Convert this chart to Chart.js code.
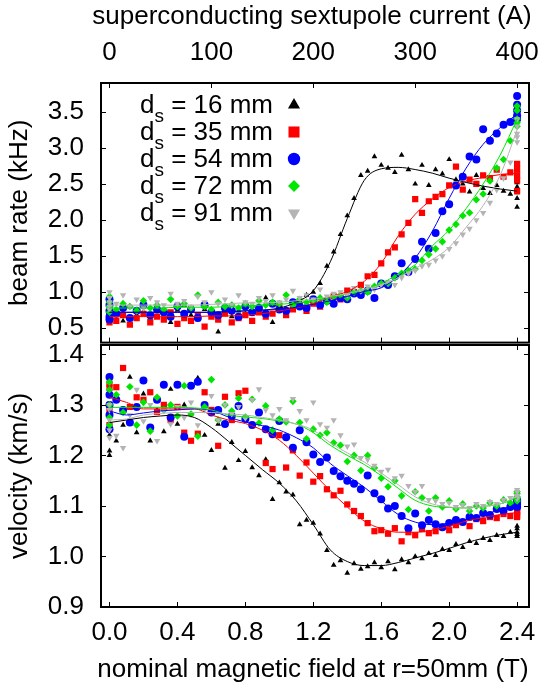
<!DOCTYPE html>
<html>
<head>
<meta charset="utf-8">
<script src="https://cdn.jsdelivr.net/npm/chart.js@4.4.1/dist/chart.umd.min.js"></script>
<style>
  html, body { margin: 0; padding: 0; background: #fff; }
  #wrap { position: relative; width: 545px; height: 693px; overflow: hidden; }
  canvas { position: absolute; left: 0; }
  #topChart { top: 0; }
  #bottomChart { top: 337px; }
</style>
</head>
<body>
<div id="wrap">
  <canvas id="topChart" width="545" height="347"></canvas>
  <canvas id="bottomChart" width="545" height="356"></canvas>
</div>
<script>
// nominal field (T) of every measurement, repeated points at 0 and 2.4 T
const field = [0, 0, 0, 0, 0,
  0.04, 0.08, 0.12, 0.16, 0.20, 0.24, 0.28, 0.32, 0.36, 0.40,
  0.44, 0.48, 0.52, 0.56, 0.60, 0.64, 0.68, 0.72, 0.76, 0.80,
  0.84, 0.88, 0.92, 0.96, 1.00, 1.04, 1.08, 1.12, 1.16, 1.20,
  1.24, 1.28, 1.32, 1.36, 1.40, 1.44, 1.48, 1.52, 1.56, 1.60,
  1.64, 1.68, 1.72, 1.76, 1.80, 1.84, 1.88, 1.92, 1.96, 2.00,
  2.04, 2.08, 2.12, 2.16, 2.20, 2.24, 2.28, 2.32, 2.36,
  2.40, 2.40, 2.40, 2.40, 2.40];

const spacings = [16, 35, 54, 72, 91]; // d_s in mm

// beam rate (kHz)
const rate16 = [0.62, 0.78, 0.70, 0.85, 0.66,
  0.74, 0.60, 0.80, 0.68, 0.72, 0.64, 0.78, 0.70, 0.58, 0.75,
  0.82, 0.68, 0.62, 0.76, 0.72, 0.45, 0.80, 0.66, 0.74, 0.70,
  0.70, 0.78, 0.92, 0.58, 0.80, 0.76, 0.84, 0.88, 0.96, 1.00,
  1.12, 1.36, 1.56, 1.80, 2.06, 2.30, 2.62, 2.68, 2.88, 2.76,
  2.72, 2.66, 2.90, 2.70, 2.50, 2.76, 2.48, 2.70, 2.64, 2.84,
  2.56, 2.50, 2.39, 2.62, 2.44, 2.37, 2.48, 2.40, 2.36,
  2.38, 2.30, 2.46, 2.52, 2.18];
const rate35 = [0.58, 0.70, 0.62, 0.66, 0.74,
  0.60, 0.68, 0.55, 0.64, 0.70, 0.58, 0.66, 0.62, 0.72, 0.56,
  0.64, 0.60, 0.68, 0.52, 0.66, 0.62, 0.70, 0.58, 0.64, 0.68,
  0.60, 0.72, 0.66, 0.70, 0.78, 0.68, 0.76, 0.82, 0.74, 0.84,
  0.80, 0.88, 0.94, 0.90, 1.02, 1.00, 1.10, 1.22, 1.24, 1.40,
  1.55, 1.62, 1.80, 1.96, 2.29, 2.10, 2.26, 2.32, 2.36, 2.48,
  2.74, 2.42, 2.56, 2.50, 2.62, 2.58, 2.70, 2.60, 2.66,
  2.55, 2.70, 2.78, 2.40, 2.62];
const rate54 = [0.66, 0.82, 0.62, 0.90, 0.74,
  0.70, 0.78, 0.64, 0.74, 0.82, 0.68, 0.76, 0.72, 0.66, 0.80,
  0.70, 0.76, 0.64, 0.82, 0.72, 0.68, 0.78, 0.74, 0.66, 0.80,
  0.72, 0.78, 0.70, 0.84, 0.76, 0.74, 0.86, 0.80, 0.78, 0.90,
  0.82, 0.88, 0.84, 0.92, 0.90, 0.98, 0.96, 1.02, 0.92, 1.12,
  1.10, 1.22, 1.40, 1.28, 1.46, 1.70, 1.60, 1.82, 2.12, 2.22,
  2.48, 2.60, 2.88, 2.84, 3.26, 3.10, 3.20, 3.32, 3.36,
  3.52, 3.72, 3.45, 3.60, 3.40];
const rate72 = [0.72, 0.86, 0.78, 0.94, 0.80,
  0.76, 0.84, 0.80, 0.74, 0.88, 0.78, 0.82, 0.76, 0.90, 0.80,
  0.84, 0.78, 0.96, 0.80, 0.76, 0.86, 0.80, 0.82, 0.78, 0.84,
  0.80, 0.88, 0.82, 0.86, 0.84, 0.96, 0.82, 0.90, 0.86, 0.88,
  0.92, 0.86, 0.94, 0.96, 0.92, 1.00, 1.02, 1.00, 1.08, 1.12,
  1.12, 1.20, 1.26, 1.30, 1.32, 1.44, 1.52, 1.60, 1.70, 1.86,
  1.94, 2.06, 2.10, 2.28, 2.36, 2.54, 2.72, 2.84, 3.10,
  3.40, 3.52, 3.35, 3.58, 3.30];
const rate91 = [0.80, 0.92, 0.76, 1.00, 0.86,
  0.84, 0.96, 0.80, 0.90, 0.78, 0.92, 0.86, 0.82, 0.98, 0.84,
  0.88, 0.80, 0.94, 0.86, 1.00, 0.84, 0.90, 0.82, 0.96, 0.86,
  0.84, 0.92, 0.88, 0.96, 0.86, 0.90, 1.02, 0.92, 0.96, 0.90,
  1.04, 0.94, 0.98, 1.00, 0.96, 1.06, 1.02, 1.08, 1.04, 1.10,
  1.14, 1.10, 1.20, 1.26, 1.30, 1.36, 1.38, 1.44, 1.50, 1.60,
  1.68, 1.80, 1.88, 2.00, 2.10, 2.24, 2.42, 2.58, 2.80,
  3.20, 3.30, 3.08, 3.40, 3.15];

// velocity (km/s)
const vel16 = [1.200, 1.209, 1.265, 1.280, 1.240,
  1.229, 1.260, 1.355, 1.245, 1.322, 1.229, 1.290, 1.247, 1.331, 1.262,
  1.300, 1.282, 1.353, 1.240, 1.210, 1.262, 1.175, 1.226, 1.190, 1.208,
  1.176, 1.160, 1.192, 1.113, 1.146, 1.128, 1.122, 1.063, 1.072, 1.066,
  1.045, 1.012, 0.983, 0.992, 0.967, 0.986, 0.975, 0.980, 0.988, 0.978,
  0.990, 0.974, 0.994, 0.988, 1.000, 0.996, 1.006, 1.002, 1.014, 1.012,
  1.024, 1.018, 1.030, 1.026, 1.036, 1.032, 1.042, 1.040, 1.048,
  1.055, 1.040, 1.048, 1.060, 1.044];
const vel35 = [1.334, 1.300, 1.260, 1.342, 1.290,
  1.335, 1.373, 1.296, 1.315, 1.310, 1.325, 1.286, 1.300, 1.270, 1.296,
  1.245, 1.229, 1.243, 1.325, 1.290, 1.219, 1.316, 1.270, 1.323, 1.328,
  1.260, 1.228, 1.185, 1.173, 1.240, 1.176, 1.210, 1.160, 1.186, 1.148,
  1.159, 1.133, 1.121, 1.130, 1.103, 1.090, 1.080, 1.066, 1.050, 1.052,
  1.045, 1.056, 1.030, 1.048, 1.042, 1.054, 1.046, 1.050, 1.058, 1.052,
  1.062, 1.068, 1.060, 1.074, 1.070, 1.078, 1.076, 1.084, 1.080,
  1.090, 1.082, 1.096, 1.078, 1.088];
const vel54 = [1.355, 1.252, 1.300, 1.280, 1.320,
  1.310, 1.290, 1.265, 1.296, 1.348, 1.255, 1.310, 1.340, 1.275, 1.340,
  1.237, 1.338, 1.346, 1.300, 1.285, 1.290, 1.262, 1.278, 1.298, 1.272,
  1.260, 1.285, 1.252, 1.242, 1.268, 1.236, 1.215, 1.250, 1.226, 1.202,
  1.187, 1.196, 1.169, 1.159, 1.150, 1.144, 1.133, 1.160, 1.125, 1.113,
  1.095, 1.100, 1.080, 1.056, 1.085, 1.062, 1.072, 1.064, 1.058, 1.066,
  1.072, 1.068, 1.078, 1.076, 1.086, 1.082, 1.094, 1.090, 1.098,
  1.104, 1.110, 1.098, 1.108, 1.112];
const vel72 = [1.345, 1.300, 1.275, 1.330, 1.260,
  1.320, 1.285, 1.336, 1.260, 1.305, 1.248, 1.315, 1.290, 1.300, 1.278,
  1.338, 1.282, 1.238, 1.296, 1.350, 1.270, 1.300, 1.288, 1.313, 1.276,
  1.311, 1.264, 1.298, 1.250, 1.272, 1.266, 1.307, 1.265, 1.233, 1.252,
  1.240, 1.245, 1.225, 1.220, 1.188, 1.200, 1.170, 1.200, 1.175, 1.155,
  1.138, 1.150, 1.120, 1.093, 1.128, 1.116, 1.090, 1.116, 1.098, 1.110,
  1.094, 1.104, 1.090, 1.100, 1.096, 1.106, 1.100, 1.112, 1.106,
  1.118, 1.124, 1.110, 1.128, 1.114];
const vel91 = [1.235, 1.270, 1.290, 1.250, 1.300,
  1.239, 1.215, 1.280, 1.330, 1.268, 1.300, 1.229, 1.290, 1.262, 1.296,
  1.275, 1.305, 1.260, 1.290, 1.318, 1.270, 1.300, 1.282, 1.296, 1.274,
  1.310, 1.331, 1.290, 1.280, 1.292, 1.270, 1.312, 1.288, 1.270, 1.305,
  1.262, 1.255, 1.270, 1.240, 1.218, 1.222, 1.195, 1.192, 1.180, 1.168,
  1.172, 1.155, 1.160, 1.140, 1.128, 1.140, 1.112, 1.110, 1.104, 1.106,
  1.098, 1.102, 1.096, 1.104, 1.100, 1.108, 1.104, 1.112, 1.116,
  1.120, 1.128, 1.114, 1.132, 1.118];

// smooth fit curves, read every 0.1 T
const fitField = [0, 0.1, 0.2, 0.3, 0.4, 0.5, 0.6, 0.7, 0.8, 0.9, 1.0, 1.1, 1.2,
  1.3, 1.4, 1.5, 1.6, 1.7, 1.8, 1.9, 2.0, 2.1, 2.2, 2.3, 2.4];
const fitRate16 = [0.72, 0.72, 0.72, 0.72, 0.72, 0.72, 0.72, 0.73, 0.74, 0.75, 0.78, 0.86, 1.02,
  1.42, 2.02, 2.55, 2.71, 2.73, 2.70, 2.65, 2.58, 2.52, 2.47, 2.43, 2.40];
const fitRate35 = [0.66, 0.66, 0.66, 0.66, 0.66, 0.66, 0.67, 0.67, 0.68, 0.70, 0.74, 0.78, 0.84,
  0.93, 1.01, 1.15, 1.40, 1.78, 2.08, 2.29, 2.45, 2.54, 2.59, 2.63, 2.65];
const fitRate54 = [0.72, 0.72, 0.72, 0.72, 0.72, 0.72, 0.72, 0.73, 0.74, 0.75, 0.76, 0.79, 0.83,
  0.88, 0.94, 1.01, 1.06, 1.22, 1.47, 1.84, 2.30, 2.72, 3.05, 3.28, 3.47];
const fitRate72 = [0.78, 0.78, 0.78, 0.78, 0.79, 0.79, 0.79, 0.80, 0.81, 0.82, 0.83, 0.85, 0.88,
  0.92, 0.98, 1.04, 1.12, 1.25, 1.38, 1.64, 1.86, 2.16, 2.50, 2.90, 3.40];
const fitRate91 = [0.82, 0.82, 0.82, 0.82, 0.82, 0.82, 0.83, 0.84, 0.85, 0.85, 0.86, 0.88, 0.90,
  0.94, 0.98, 1.04, 1.10, 1.20, 1.33, 1.45, 1.62, 1.90, 2.20, 2.62, 3.25];
const fitVel16 = [1.265, 1.270, 1.275, 1.278, 1.280, 1.275, 1.255, 1.228, 1.200, 1.172, 1.145, 1.110, 1.063,
  1.013, 0.990, 0.982, 0.982, 0.988, 0.997, 1.006, 1.016, 1.027, 1.036, 1.043, 1.048];
const fitVel35 = [1.315, 1.305, 1.292, 1.292, 1.292, 1.292, 1.280, 1.270, 1.263, 1.250, 1.230, 1.200, 1.165,
  1.130, 1.098, 1.070, 1.055, 1.048, 1.048, 1.052, 1.060, 1.070, 1.077, 1.083, 1.087];
const fitVel54 = [1.288, 1.280, 1.284, 1.288, 1.290, 1.292, 1.289, 1.276, 1.266, 1.259, 1.250, 1.235, 1.215,
  1.184, 1.160, 1.137, 1.110, 1.083, 1.068, 1.063, 1.066, 1.073, 1.082, 1.093, 1.103];
const fitVel72 = [1.295, 1.295, 1.295, 1.295, 1.295, 1.294, 1.290, 1.280, 1.276, 1.273, 1.268, 1.262, 1.245,
  1.220, 1.200, 1.182, 1.160, 1.135, 1.111, 1.100, 1.097, 1.096, 1.099, 1.104, 1.116];
const fitVel91 = [1.270, 1.272, 1.280, 1.283, 1.285, 1.285, 1.285, 1.282, 1.280, 1.275, 1.270, 1.262, 1.250,
  1.225, 1.205, 1.187, 1.165, 1.142, 1.118, 1.104, 1.098, 1.096, 1.099, 1.104, 1.119];

// tick labels
const fieldTicks = [0, 0.4, 0.8, 1.2, 1.6, 2.0, 2.4];
const currentTicks = [0, 100, 200, 300, 400];
const rateTicks = [0.5, 1.0, 1.5, 2.0, 2.5, 3.0, 3.5];
const velTicks = [0.9, 1.0, 1.1, 1.2, 1.3, 1.4];

// axis ranges: 400 A of sextupole current = 2.4 T
const T_MIN = -0.05, T_MAX = 2.47;
const AMP_PER_T = 400 / 2.4;

const FONT = "'Liberation Sans', Arial, Helvetica, sans-serif";
const colors = ['#000000', '#ff0000', '#0000ff', '#00e600', '#b4b4b4'];
const markers = [
  { pointStyle: 'triangle', radius: 3.3, rotation: 0 },
  { pointStyle: 'rect', radius: 4.4, rotation: 0 },
  { pointStyle: 'circle', radius: 4, rotation: 0 },
  { pointStyle: 'rectRot', radius: 3.8, rotation: 0 },
  { pointStyle: 'triangle', radius: 3.7, rotation: 180 }
];
const legendMarkers = [
  { pointStyle: 'triangle', radius: 7, rotation: 0 },
  { pointStyle: 'rect', radius: 7.8, rotation: 0 },
  { pointStyle: 'circle', radius: 6.2, rotation: 0 },
  { pointStyle: 'rectRot', radius: 6, rotation: 0 },
  { pointStyle: 'triangle', radius: 7, rotation: 180 }
];

function buildDatasets(values, fits) {
  const sets = [];
  values.forEach((ys, i) => {
    sets.push({
      data: field.map((x, k) => ({ x: x, y: ys[k] })),
      showLine: false,
      pointStyle: markers[i].pointStyle,
      pointRadius: markers[i].radius,
      pointRotation: markers[i].rotation,
      pointBackgroundColor: colors[i],
      pointBorderWidth: 0,
      order: 20 - i
    });
    sets.push({
      data: fitField.map((x, k) => ({ x: x, y: fits[i][k] })),
      showLine: true,
      pointRadius: 0,
      borderColor: colors[i],
      borderWidth: 1,
      cubicInterpolationMode: 'monotone',
      order: 10 - i
    });
  });
  return sets;
}

// frame round the plot area with inward ticks, like the original plot
const framePlugin = {
  id: 'frame',
  afterDatasetsDraw(chart, args, opts) {
    const { ctx, chartArea: a } = chart;
    const L = 5;
    ctx.save();
    ctx.strokeStyle = '#000';
    ctx.lineWidth = 1;
    ctx.beginPath();
    (opts.ticks || []).forEach(t => {
      const sc = chart.scales[t.scale];
      t.values.forEach(v => {
        const p = Math.round(sc.getPixelForValue(v)) + 0.5;
        if (t.edge === 'bottom') { ctx.moveTo(p, a.bottom); ctx.lineTo(p, a.bottom - L); }
        if (t.edge === 'top') { ctx.moveTo(p, a.top); ctx.lineTo(p, a.top + L); }
        if (t.edge === 'left') { ctx.moveTo(a.left, p); ctx.lineTo(a.left + L, p); }
        if (t.edge === 'right') { ctx.moveTo(a.right, p); ctx.lineTo(a.right - L, p); }
      });
    });
    ctx.stroke();
    ctx.lineWidth = 2;
    ctx.strokeRect(a.left, a.top, a.right - a.left, a.bottom - a.top);
    ctx.restore();
  }
};

// horizontal axis titles are wider than the plot, so they are drawn without squeezing
const xTitlePlugin = {
  id: 'xTitle',
  afterDraw(chart, args, opts) {
    if (!opts.text) return;
    const ctx = chart.ctx;
    ctx.save();
    ctx.font = '26px ' + FONT;
    ctx.fillStyle = '#000';
    ctx.textAlign = 'center';
    ctx.textBaseline = 'middle';
    ctx.fillText(opts.text, opts.x, opts.y);
    ctx.restore();
  }
};

// key with subscripted d_s, drawn in the top panel
const legendPlugin = {
  id: 'dsLegend',
  afterDraw(chart, args, opts) {
    if (!opts.show) return;
    const ctx = chart.ctx;
    ctx.save();
    ctx.textBaseline = 'alphabetic';
    spacings.forEach((mm, i) => {
      const y = opts.y0 + i * opts.dy;
      const rest = ' = ' + mm + ' mm';
      ctx.font = '26px ' + FONT;
      const wRest = ctx.measureText(rest).width;
      const wD = ctx.measureText('d').width;
      ctx.font = '19px ' + FONT;
      const wS = ctx.measureText('s').width;
      const x = opts.textRight - wRest - wS - wD;
      ctx.fillStyle = '#000';
      ctx.font = '26px ' + FONT;
      ctx.fillText('d', x, y + 7.5);
      ctx.fillText(rest, x + wD + wS, y + 7.5);
      ctx.font = '19px ' + FONT;
      ctx.fillText('s', x + wD, y + 16.5);
      ctx.fillStyle = colors[i];
      Chart.helpers.drawPoint(ctx, {
        pointStyle: legendMarkers[i].pointStyle,
        radius: legendMarkers[i].radius,
        rotation: legendMarkers[i].rotation,
        borderWidth: 0
      }, opts.markerX, y);
    });
    ctx.restore();
  }
};

const tickFont = { family: FONT, size: 26 };

function yAxis(min, max, ticks, title) {
  return {
    type: 'linear', position: 'left', min: min, max: max,
    afterBuildTicks: s => { s.ticks = ticks.map(v => ({ value: v })); },
    grid: { display: false, drawTicks: false }, border: { display: false },
    ticks: { font: tickFont, color: '#000', padding: 17, callback: v => v.toFixed(1) },
    title: { display: true, text: title, font: tickFont, color: '#000', padding: { top: 4, bottom: 0 } },
    afterFit: s => { s.width = 101; s.paddingTop = 0; s.paddingBottom = 0; }
  };
}

const common = {
  responsive: false, maintainAspectRatio: false, animation: false, devicePixelRatio: 1, events: []
};

new Chart(document.getElementById('topChart'), {
  type: 'scatter',
  data: { datasets: buildDatasets([rate16, rate35, rate54, rate72, rate91],
    [fitRate16, fitRate35, fitRate54, fitRate72, fitRate91]) },
  options: Object.assign({}, common, {
    layout: { padding: { left: 0, right: 16, top: 0, bottom: 2 } },
    scales: {
      x: { type: 'linear', display: false, min: T_MIN, max: T_MAX },
      xA: {
        type: 'linear', position: 'top', min: T_MIN * AMP_PER_T, max: T_MAX * AMP_PER_T,
        afterBuildTicks: s => { s.ticks = currentTicks.map(v => ({ value: v })); },
        grid: { display: false, drawTicks: false }, border: { display: false },
        ticks: { font: tickFont, color: '#000', padding: 15, autoSkip: false, maxRotation: 0, callback: v => String(v) },
        afterFit: s => { s.height = 83; s.paddingLeft = 0; s.paddingRight = 0; }
      },
      y: yAxis(0.3, 3.9, rateTicks, 'beam rate (kHz)')
    },
    plugins: {
      legend: { display: false }, tooltip: { enabled: false },
      frame: { ticks: [
        { scale: 'x', values: fieldTicks, edge: 'bottom' },
        { scale: 'xA', values: currentTicks, edge: 'top' },
        { scale: 'y', values: rateTicks, edge: 'left' },
        { scale: 'y', values: rateTicks, edge: 'right' }
      ] },
      xTitle: { text: 'superconducting sextupole current (A)', x: 312, y: 17 },
      dsLegend: { show: true, y0: 105, dy: 27, textRight: 273, markerX: 294 }
    }
  }),
  plugins: [framePlugin, legendPlugin, xTitlePlugin]
});

new Chart(document.getElementById('bottomChart'), {
  type: 'scatter',
  data: { datasets: buildDatasets([vel16, vel35, vel54, vel72, vel91],
    [fitVel16, fitVel35, fitVel54, fitVel72, fitVel91]) },
  options: Object.assign({}, common, {
    layout: { padding: { left: 0, right: 16, top: 8, bottom: 0 } },
    scales: {
      x: {
        type: 'linear', position: 'bottom', min: T_MIN, max: T_MAX,
        afterBuildTicks: s => { s.ticks = fieldTicks.map(v => ({ value: v })); },
        grid: { display: false, drawTicks: false }, border: { display: false },
        ticks: { font: tickFont, color: '#000', padding: 10, autoSkip: false, maxRotation: 0, callback: v => v.toFixed(1) },
        afterFit: s => { s.height = 86; s.paddingLeft = 0; s.paddingRight = 0; }
      },
      xA: { type: 'linear', display: false, min: T_MIN * AMP_PER_T, max: T_MAX * AMP_PER_T },
      y: yAxis(0.9, 1.4185, velTicks, 'velocity (km/s)')
    },
    plugins: {
      legend: { display: false }, tooltip: { enabled: false },
      frame: { ticks: [
        { scale: 'x', values: fieldTicks, edge: 'bottom' },
        { scale: 'x', values: fieldTicks, edge: 'top' },
        { scale: 'xA', values: currentTicks, edge: 'top' },
        { scale: 'y', values: velTicks, edge: 'left' },
        { scale: 'y', values: velTicks, edge: 'right' }
      ] },
      xTitle: { text: 'nominal magnetic field at r=50mm (T)', x: 313, y: 333 },
      dsLegend: { show: false }
    }
  }),
  plugins: [framePlugin, legendPlugin, xTitlePlugin]
});
</script>
</body>
</html>
